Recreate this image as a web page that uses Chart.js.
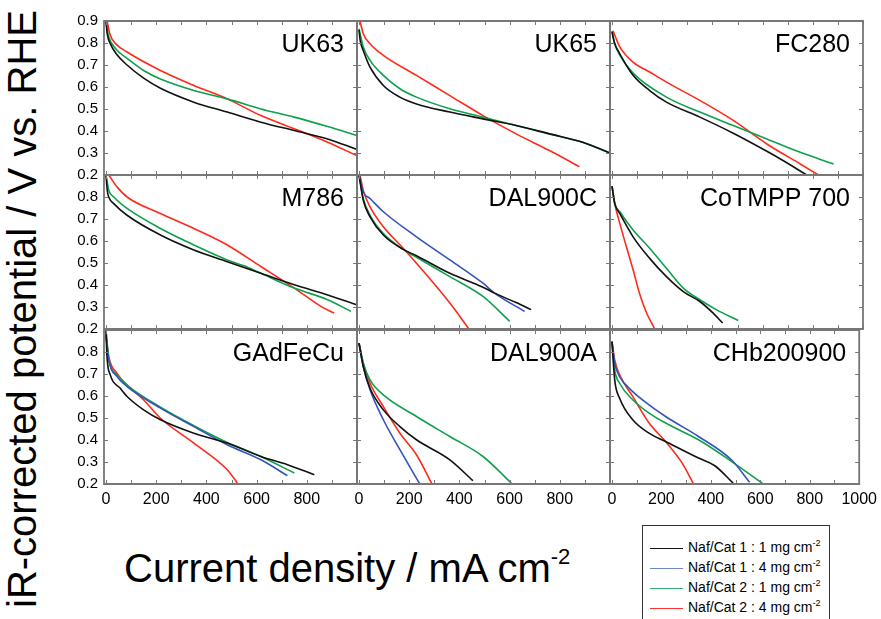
<!DOCTYPE html>
<html>
<head>
<meta charset="utf-8">
<script src="https://cdn.jsdelivr.net/npm/chart.js@4.4.1/dist/chart.umd.min.js"></script>
<style>
  body { margin: 0; background: #fff; }
  #wrap { position: relative; width: 881px; height: 619px; overflow: hidden; background: #fff;
          font-family: Arial, "Liberation Sans", sans-serif; color: #000; }
  canvas { position: absolute; }
  #ytitle { position: absolute; left: 22px; top: 309px; font-size: 40px; white-space: nowrap;
            transform: translate(-50%, -50%) rotate(-90deg); line-height: 40px; }
  #xtitle { position: absolute; left: 124px; top: 548px; font-size: 40px; line-height: 40px; white-space: nowrap; }
  #xtitle .sup { font-size: 22px; position: relative; top: -18px; }
  #legend { position: absolute; left: 642px; top: 525px; width: 188px; height: 110px;
            border: 1px solid #333; box-sizing: border-box; font-size: 14px; }
  .row { position: absolute; left: 7px; height: 20px; line-height: 20px; white-space: nowrap; }
  .row i { display: inline-block; width: 33px; height: 0; border-top: 1.5px solid; vertical-align: middle; margin-right: 5px; }
  .row .sup { font-size: 9px; position: relative; top: -6px; }
</style>
</head>
<body>
<div id="wrap">
  <div id="ytitle">iR-corrected potential / V vs. RHE</div>
  <div id="xtitle">Current density / mA cm<span class="sup">-2</span></div>
  <div id="legend"></div>
</div>
<script>
// categories / series
const panelNames = ['UK63', 'UK65', 'FC280', 'M786', 'DAL900C', 'CoTMPP 700', 'GAdFeCu', 'DAL900A', 'CHb200900'];
const seriesLabels = ['Naf/Cat 1 : 1 mg cm', 'Naf/Cat 1 : 4 mg cm', 'Naf/Cat 2 : 1 mg cm', 'Naf/Cat 2 : 4 mg cm'];
const seriesColors = ['#111111', '#3553b8', '#0fa04e', '#ff2a1a'];
const legendColors = ['#111111', '#7088c8', '#35b070', '#ff3030'];
const xTickLabels = [0, 200, 400, 600, 800, 1000];
const yTickLabels = [0.2, 0.3, 0.4, 0.5, 0.6, 0.7, 0.8, 0.9];

// [current density mA/cm2, potential V]
const uk63_black = [[0,0.9],[5,0.84],[17,0.797],[40,0.752],[84,0.7],[150,0.64],[217,0.594],[350,0.531],[483,0.486],[617,0.44],[750,0.402],[883,0.364],[1000,0.316]];
const uk63_green = [[0,0.9],[5,0.86],[11,0.827],[40,0.772],[84,0.73],[150,0.675],[217,0.636],[350,0.584],[483,0.546],[617,0.5],[750,0.463],[883,0.42],[1000,0.379]];
const uk63_red = [[4,0.9],[17,0.835],[40,0.795],[84,0.759],[217,0.675],[350,0.607],[483,0.546],[617,0.47],[750,0.41],[883,0.349],[1000,0.288]];

const uk65_black = [[0,0.86],[5,0.81],[17,0.766],[44,0.69],[97,0.607],[163,0.554],[229,0.523],[362,0.486],[494,0.455],[626,0.425],[759,0.387],[891,0.349],[1000,0.3]];
const uk65_green = [[0,0.865],[17,0.782],[44,0.721],[97,0.653],[163,0.592],[229,0.554],[362,0.501],[494,0.463],[626,0.425],[759,0.387],[891,0.349],[1000,0.3]];
const uk65_red = [[4,0.9],[17,0.842],[44,0.797],[97,0.744],[229,0.653],[362,0.561],[494,0.47],[626,0.387],[759,0.311],[878,0.238]];

const fc280_black = [[0,0.85],[10,0.8],[31,0.751],[84,0.653],[150,0.584],[217,0.531],[350,0.463],[483,0.39],[617,0.308],[683,0.265],[776,0.2]];
const fc280_green = [[0,0.855],[10,0.8],[31,0.745],[84,0.663],[217,0.554],[350,0.486],[483,0.425],[617,0.364],[750,0.303],[883,0.25]];
const fc280_red = [[4,0.855],[31,0.782],[84,0.713],[150,0.668],[217,0.622],[350,0.539],[483,0.448],[617,0.341],[750,0.25],[823,0.2]];

const m786_black = [[0,0.9],[5,0.83],[11,0.8],[31,0.77],[84,0.717],[217,0.627],[350,0.559],[483,0.506],[617,0.453],[750,0.401],[883,0.355],[1000,0.31]];
const m786_green = [[0,0.9],[11,0.831],[31,0.8],[84,0.748],[217,0.657],[350,0.582],[483,0.514],[550,0.487],[617,0.453],[750,0.386],[883,0.333],[976,0.28]];
const m786_red = [[11,0.9],[44,0.846],[84,0.8],[217,0.725],[350,0.657],[483,0.582],[617,0.484],[750,0.386],[856,0.303],[909,0.272]];

const dal900c_black = [[0,0.9],[17,0.785],[44,0.71],[97,0.627],[176,0.562],[229,0.533],[362,0.453],[494,0.39],[540,0.363],[626,0.32],[686,0.288]];
const dal900c_blue = [[0,0.9],[17,0.823],[44,0.793],[97,0.733],[229,0.619],[362,0.514],[494,0.408],[540,0.363],[660,0.28]];
const dal900c_green = [[0,0.9],[17,0.793],[44,0.717],[97,0.634],[176,0.562],[229,0.526],[362,0.438],[494,0.348],[600,0.235]];
const dal900c_red = [[4,0.9],[17,0.83],[44,0.755],[97,0.665],[176,0.567],[229,0.499],[362,0.318],[438,0.2]];

const cotmpp_black = [[0,0.849],[11,0.77],[31,0.725],[84,0.619],[150,0.521],[217,0.438],[284,0.37],[350,0.325],[403,0.272],[441,0.227]];
const cotmpp_green = [[0,0.849],[11,0.77],[31,0.733],[84,0.65],[150,0.567],[217,0.476],[284,0.386],[350,0.333],[417,0.287],[503,0.239]];
const cotmpp_red = [[0,0.849],[11,0.77],[31,0.68],[57,0.575],[84,0.469],[110,0.36],[137,0.275],[170,0.2]];

const gadfecu_black = [[0,0.9],[4,0.779],[17,0.696],[57,0.635],[84,0.598],[150,0.537],[217,0.492],[350,0.431],[483,0.386],[617,0.325],[723,0.288],[830,0.242]];
const gadfecu_blue = [[0,0.87],[11,0.764],[44,0.688],[84,0.643],[217,0.545],[350,0.461],[483,0.378],[617,0.31],[723,0.238]];
const gadfecu_green = [[0,0.9],[11,0.771],[44,0.696],[84,0.65],[217,0.549],[350,0.465],[483,0.389],[617,0.325],[750,0.25]];
const gadfecu_red = [[0,0.877],[11,0.779],[44,0.703],[84,0.65],[150,0.582],[217,0.499],[350,0.386],[483,0.265],[523,0.205]];

const dal900a_black = [[0,0.84],[17,0.734],[44,0.635],[97,0.537],[163,0.461],[229,0.401],[362,0.31],[454,0.215]];
const dal900a_blue = [[0,0.84],[17,0.734],[44,0.628],[97,0.492],[163,0.356],[242,0.2]];
const dal900a_green = [[0,0.84],[17,0.749],[44,0.673],[97,0.605],[229,0.507],[362,0.416],[494,0.325],[607,0.204]];
const dal900a_red = [[0,0.84],[17,0.749],[44,0.658],[97,0.552],[163,0.431],[229,0.333],[289,0.204]];

const chb_black = [[0,0.847],[11,0.673],[31,0.59],[84,0.492],[150,0.431],[217,0.393],[350,0.318],[416,0.283],[490,0.204]];
const chb_blue = [[0,0.847],[11,0.749],[31,0.688],[84,0.62],[150,0.56],[217,0.507],[350,0.416],[483,0.31],[557,0.208]];
const chb_green = [[0,0.847],[11,0.719],[31,0.658],[84,0.583],[150,0.522],[217,0.477],[350,0.401],[483,0.303],[610,0.202]];
const chb_red = [[0,0.847],[11,0.764],[31,0.696],[84,0.598],[150,0.477],[217,0.393],[284,0.295],[330,0.2]];

const panelSeries = [
  [uk63_black, null, uk63_green, uk63_red],
  [uk65_black, null, uk65_green, uk65_red],
  [fc280_black, null, fc280_green, fc280_red],
  [m786_black, null, m786_green, m786_red],
  [dal900c_black, dal900c_blue, dal900c_green, dal900c_red],
  [cotmpp_black, null, cotmpp_green, cotmpp_red],
  [gadfecu_black, gadfecu_blue, gadfecu_green, gadfecu_red],
  [dal900a_black, dal900a_blue, dal900a_green, dal900a_red],
  [chb_black, chb_blue, chb_green, chb_red]
];

// layout of the plot areas
const plotLeft = [104, 357, 610];
const plotTop = [21, 175, 330];
const plotW = 253, plotH = 154;
const PAD = 20, YLAB = 45, XLAB = 26;
const FONT = 'Arial, "Liberation Sans", sans-serif';

// frame with inward ticks + panel name
const framePlugin = {
  id: 'frame',
  afterDraw(chart, args, opts) {
    const c = chart.ctx, a = chart.chartArea;
    const xs = chart.scales.x, ys = chart.scales.y;
    c.save();
    c.setLineDash([]);
    c.strokeStyle = '#777777';
    c.lineWidth = 1.8;
    c.beginPath();
    c.moveTo(a.left, a.top);
    c.lineTo(a.right, a.top);
    c.lineTo(a.right, a.bottom);
    c.lineTo(a.left, a.bottom);
    c.closePath();
    c.stroke();
    c.lineWidth = 1;
    c.beginPath();
    for (let v = 0; v <= 1000; v += 100) {
      const px = Math.round(xs.getPixelForValue(v)) + 0.5;
      c.moveTo(px, a.bottom); c.lineTo(px, a.bottom - 4);
      c.moveTo(px, a.top); c.lineTo(px, a.top + 4);
    }
    yTickLabels.forEach(v => {
      const py = Math.round(ys.getPixelForValue(v)) + 0.5;
      c.moveTo(a.left, py); c.lineTo(a.left + 4, py);
      c.moveTo(a.right, py); c.lineTo(a.right - 4, py);
    });
    c.stroke();
    c.fillStyle = '#000';
    c.font = '25px ' + FONT;
    c.textAlign = 'right';
    c.textBaseline = 'alphabetic';
    c.fillText(opts.name, a.right - 13, a.top + 31);
    c.restore();
  }
};

const wrap = document.getElementById('wrap');

panelNames.forEach((name, i) => {
  const col = i % 3, row = Math.floor(i / 3);
  const showY = col === 0, showX = row === 2;
  const left = plotLeft[col] - PAD - (showY ? YLAB : 0);
  const top = plotTop[row] - PAD;
  const w = plotW + 2 * PAD + (showY ? YLAB : 0);
  const h = plotH + 2 * PAD + (showX ? XLAB : 0);

  const canvas = document.createElement('canvas');
  canvas.width = w; canvas.height = h;
  canvas.style.left = left + 'px'; canvas.style.top = top + 'px';
  canvas.style.width = w + 'px'; canvas.style.height = h + 'px';
  wrap.appendChild(canvas);

  const datasets = [];
  panelSeries[i].forEach((pts, s) => {
    if (!pts) return;
    datasets.push({
      label: seriesLabels[s],
      data: pts,
      borderColor: seriesColors[s],
      borderWidth: 1.6,
      pointRadius: 0,
      fill: false,
      cubicInterpolationMode: 'monotone'
    });
  });

  const xTicks = xTickLabels.filter(v => col === 2 || v < 1000);
  const yTicks = yTickLabels.filter(v => row === 0 || v < 0.9);

  new Chart(canvas.getContext('2d'), {
    type: 'line',
    data: { datasets: datasets },
    options: {
      responsive: false,
      animation: false,
      layout: { padding: PAD },
      plugins: { legend: { display: false }, tooltip: { enabled: false }, frame: { name: name } },
      scales: {
        x: {
          type: 'linear', min: -8, max: 1000,
          display: showX,
          grid: { display: false, drawTicks: false },
          border: { display: false },
          afterBuildTicks: s => { s.ticks = xTicks.map(v => ({ value: v })); },
          afterFit: s => { s.height = showX ? XLAB : 0; },
          ticks: { color: '#000', font: { size: 16, family: FONT }, padding: 6, maxRotation: 0, autoSkip: false,
                   callback: v => String(v) }
        },
        y: {
          type: 'linear', min: 0.2, max: 0.9,
          display: showY,
          grid: { display: false, drawTicks: false },
          border: { display: false },
          afterBuildTicks: s => { s.ticks = yTicks.map(v => ({ value: v })); },
          afterFit: s => { s.width = showY ? YLAB : 0; },
          ticks: { color: '#000', font: { size: 15, family: FONT }, padding: 6, autoSkip: false,
                   callback: v => Number(v).toFixed(1) }
        }
      }
    },
    plugins: [framePlugin]
  });
});

// legend
const legend = document.getElementById('legend');
seriesLabels.forEach((lab, s) => {
  const r = document.createElement('div');
  r.className = 'row';
  r.style.top = (11 + s * 20) + 'px';
  r.innerHTML = '<i style="border-color:' + legendColors[s] + '"></i>' + lab + '<span class="sup">-2</span>';
  legend.appendChild(r);
});
</script>
</body>
</html>
